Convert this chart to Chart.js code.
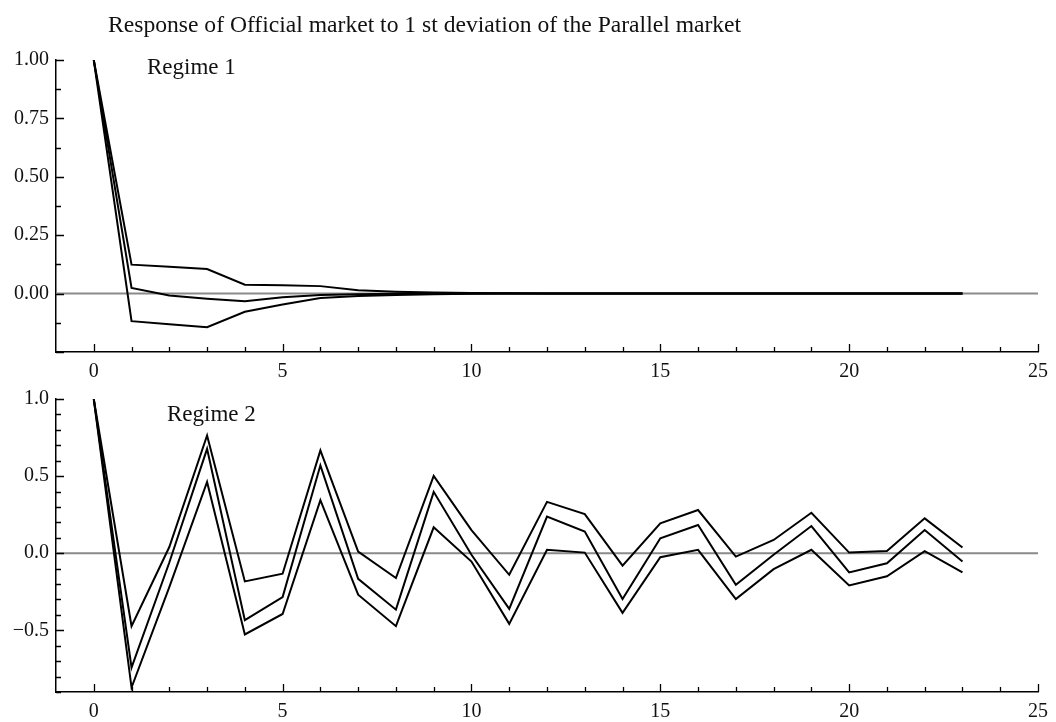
<!DOCTYPE html>
<html><head><meta charset="utf-8">
<script src="https://cdn.jsdelivr.net/npm/chart.js@4.4.1/dist/chart.umd.min.js"></script>
<style>
html,body{margin:0;padding:0;background:#fff;}
#wrap{position:relative;width:1056px;height:722px;overflow:hidden;background:#fff;}
.box{position:absolute;left:0;width:1056px;}
.lbl{position:absolute;font-family:'Liberation Serif','Times New Roman',serif;color:#111;white-space:nowrap;line-height:23px;font-size:23px;}
</style></head><body>
<div id="wrap">
<div class="box" style="top:0;height:380px;"><canvas id="c1"></canvas></div>
<div class="box" style="top:380px;height:342px;"><canvas id="c2"></canvas></div>
<div class="lbl" style="left:108px;top:13px;font-size:23.6px;">Response of Official market to 1 st deviation of the Parallel market</div>
<div class="lbl" style="left:147px;top:55px;">Regime 1</div>
<div class="lbl" style="left:167px;top:402px;">Regime 2</div>
</div>
<script>
const horizons = [0,1,2,3,4,5,6,7,8,9,10,11,12,13,14,15,16,17,18,19,20,21,22,23];

const r1Upper = [1.0, 0.124, 0.115, 0.105, 0.038, 0.036, 0.032, 0.014, 0.008, 0.005, 0.003, 0.001, 0.0, 0.0, 0.0, 0.0, 0.0, 0.0, 0.0, 0.0, 0.0, 0.0, 0.0, 0.0];
const r1Mid   = [1.0, 0.024, -0.008, -0.022, -0.033, -0.016, -0.006, -0.003, -0.001, 0.0, 0.0, 0.0, 0.0, 0.0, 0.0, 0.0, 0.0, 0.0, 0.0, 0.0, 0.0, 0.0, 0.0, 0.0];
const r1Lower = [1.0, -0.118, -0.131, -0.144, -0.078, -0.047, -0.019, -0.01, -0.006, -0.003, -0.001, 0.0, 0.0, 0.0, 0.0, 0.0, 0.0, 0.0, 0.0, 0.0, 0.0, 0.0, 0.0, 0.0];

const r2Upper = [1.0, -0.473, 0.04, 0.763, -0.183, -0.133, 0.667, 0.011, -0.161, 0.501, 0.15, -0.14, 0.333, 0.254, -0.08, 0.194, 0.28, -0.022, 0.086, 0.262, 0.004, 0.015, 0.226, 0.037];
const r2Mid   = [1.0, -0.742, -0.06, 0.677, -0.434, -0.284, 0.57, -0.166, -0.366, 0.398, -0.01, -0.361, 0.237, 0.14, -0.297, 0.097, 0.183, -0.204, -0.01, 0.176, -0.125, -0.065, 0.15, -0.054];
const r2Lower = [1.0, -0.871, -0.22, 0.462, -0.527, -0.394, 0.344, -0.269, -0.473, 0.168, -0.054, -0.458, 0.022, 0.004, -0.387, -0.026, 0.022, -0.297, -0.103, 0.022, -0.209, -0.15, 0.013, -0.125];

const xTickLabels = [0, 5, 10, 15, 20, 25];
const r1YTicks = [0, 0.25, 0.5, 0.75, 1.0];
const r2YTicks = [-0.5, 0, 0.5, 1.0];

Chart.defaults.font.family = "'Liberation Serif','Times New Roman',serif";
Chart.defaults.color = '#111';

function pts(ys){ return horizons.map((h,i)=>({x:h, y:ys[i]})); }

const zeroLine = {
  id:'zeroLine',
  beforeDatasetsDraw(chart){
    const {ctx, chartArea:a, scales:{y}} = chart;
    const py = y.getPixelForValue(0);
    ctx.save();
    ctx.strokeStyle = '#8a8a8a';
    ctx.lineWidth = 2;
    ctx.beginPath();
    ctx.moveTo(a.left, py); ctx.lineTo(a.right, py);
    ctx.stroke();
    ctx.restore();
  }
};

const inwardTicks = {
  id:'inwardTicks',
  afterDraw(chart, args, opts){
    const {ctx, chartArea:a, scales:{x,y}} = chart;
    ctx.save();
    ctx.strokeStyle = '#000';
    ctx.lineWidth = 1.3;
    ctx.beginPath();
    for (let v = 0; v <= 25; v++){
      const px = Math.round(x.getPixelForValue(v)) + 0.5;
      const len = v % 5 === 0 ? 8 : 5;
      ctx.moveTo(px, a.bottom); ctx.lineTo(px, a.bottom - len);
    }
    const n = Math.round((opts.yMax - opts.yMin) / opts.minorStep);
    for (let i = 0; i <= n; i++){
      const v = opts.yMin + i * opts.minorStep;
      const py = Math.round(y.getPixelForValue(v)) + 0.5;
      const r = v / opts.majorStep;
      const len = Math.abs(r - Math.round(r)) < 1e-6 ? 8 : 5;
      ctx.moveTo(a.left, py); ctx.lineTo(a.left + len, py);
    }
    ctx.stroke();
    ctx.restore();
  }
};

function makeChart(id, series, yMin, yMax, yTicks, fmt, padTop, xAxisH, minorStep, majorStep){
  new Chart(document.getElementById(id), {
    type:'line',
    data:{ datasets: series.map(s => ({ data: pts(s), borderColor:'#000', borderWidth:2, pointRadius:0, tension:0, fill:false })) },
    options:{
      responsive:true, maintainAspectRatio:false, animation:false, events:[],
      layout:{ padding:{ top:padTop, right:15, bottom:0, left:0 } },
      plugins:{ legend:{display:false}, tooltip:{enabled:false}, title:{display:false},
        inwardTicks:{ yMin, yMax, minorStep, majorStep } },
      scales:{
        x:{ type:'linear', min:-1, max:25,
          grid:{ display:false, drawTicks:false },
          border:{ display:true, color:'#000', width:1.5 },
          ticks:{ padding:8, color:'#111', font:{size:20}, autoSkip:false, maxRotation:0, callback:v => String(v) },
          afterBuildTicks: s => { s.ticks = xTickLabels.map(v => ({value:v})); },
          afterFit: s => { s.height = xAxisH; } },
        y:{ type:'linear', min:yMin, max:yMax,
          grid:{ display:false, drawTicks:false },
          border:{ display:true, color:'#000', width:1.5 },
          ticks:{ padding:7, color:'#111', font:{size:20}, callback: fmt },
          afterBuildTicks: s => { s.ticks = yTicks.map(v => ({value:v})); },
          afterFit: s => { s.width = 56; } }
      }
    },
    plugins:[zeroLine, inwardTicks]
  });
}

makeChart('c1', [r1Upper, r1Mid, r1Lower], -0.25, 1.0, r1YTicks, v => Number(v).toFixed(2), 60, 28, 0.125, 0.25);
makeChart('c2', [r2Upper, r2Mid, r2Lower], -0.9, 1.0, r2YTicks, v => (v < 0 ? '\u2212' + Math.abs(v).toFixed(1) : Number(v).toFixed(1)), 18, 30, 0.1, 0.5);
</script>
</body></html>
